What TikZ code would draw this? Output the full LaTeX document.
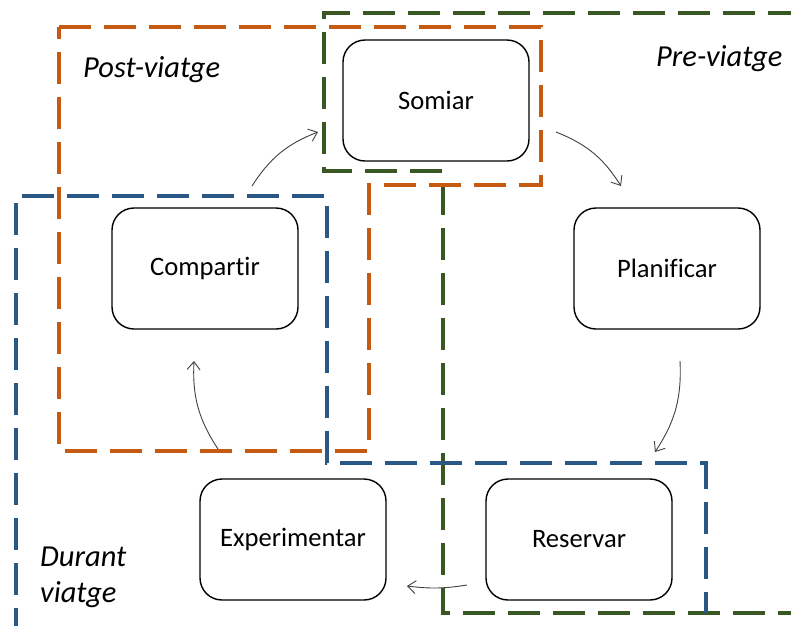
\documentclass[tikz,border=0pt]{standalone}
\usepackage{fontspec}
\setmainfont{Carlito}[Ligatures={NoCommon}]
\usetikzlibrary{arrows.meta}
\definecolor{orng}{HTML}{C55A11}
\definecolor{grn}{HTML}{385723}
\definecolor{blu}{HTML}{2A5783}
\definecolor{arr}{HTML}{404040}
\tikzset{
  stagebox/.style={draw=black, line width=1.4pt, rounded corners=22pt,
    minimum width=186pt, minimum height=121pt, inner sep=0pt,
    font=\fontsize{26.6}{32}\selectfont},
  zone/.style={line width=4.5pt, dash pattern=on 32pt off 13pt},
  cyc/.style={draw=arr, line width=0.9pt, -{Straight Barb[length=8pt,width=13pt,line width=0.9pt]}, bend left=18},
  zlabel/.style={anchor=base west, inner sep=0pt, font=\fontsize{30.5}{36}\selectfont\itshape}
}
\begin{document}
\begin{tikzpicture}[x=1pt,y=-1pt]
\useasboundingbox (0,0) rectangle (791,625);
\clip (0,0) rectangle (791,625);
% zones
\draw[zone, draw=grn] (800,13) -- (324,13) -- (324,171) -- (443,171) -- (443,613) -- (800,613);
\draw[zone, draw=orng] (59,27) -- (541,27) -- (541,185) -- (369,185) -- (369,451) -- (59,451) -- cycle;
\draw[zone, draw=blu] (16,640) -- (16,196) -- (327,196) -- (327,463) -- (706,463) -- (706,613);
% labels
\node[zlabel] (lpost) at (83,77) {Post-viatge};
\node[zlabel] (lpre) at (656,66) {Pre-viatge};
\node[zlabel] (ldur1) at (40,566) {Durant};
\node[zlabel] (ldur2) at (40,602) {viatge};
% stages
\node[stagebox] (som) at (436,100.5) {Somiar};
\node[stagebox] (pla) at (667,268.5) {Planificar};
\node[stagebox] (res) at (579,539.5) {Reservar};
\node[stagebox] (exp) at (293,539.5) {Experimentar};
\node[stagebox] (com) at (205,268.5) {Compartir};
% arrow ends
\coordinate (a1s) at (556,132); \coordinate (a1e) at (621,186);
\coordinate (a2s) at (680,361); \coordinate (a2e) at (655,452);
\coordinate (a3s) at (467,585); \coordinate (a3e) at (407,586);
\coordinate (a4s) at (218,449); \coordinate (a4e) at (194,361);
\coordinate (a5s) at (252,186); \coordinate (a5e) at (318,132);
\draw[cyc] (a1s) to (a1e);
\draw[cyc] (a2s) to (a2e);
\draw[cyc, bend left=8] (a3s) to (a3e);
\draw[cyc] (a4s) to (a4e);
\draw[cyc] (a5s) to (a5e);
\end{tikzpicture}
\end{document}
